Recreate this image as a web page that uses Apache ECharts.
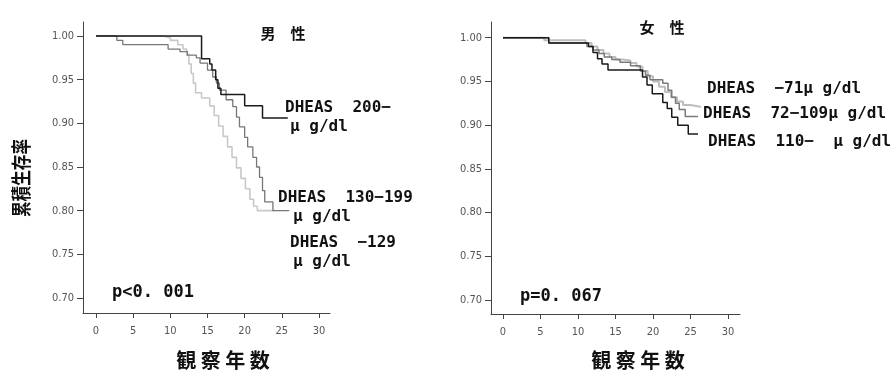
<!DOCTYPE html>
<html>
<head>
<meta charset="utf-8">
<script src="https://cdn.jsdelivr.net/npm/echarts@6/dist/echarts.min.js"></script>
<style>
    html, body { margin: 0; padding: 0; background: #fff; }
    #chartDiv { width: 893px; height: 370px; }
</style>
</head>
<body>
<div id="chartDiv"></div>
<script>
    // 目盛り
    var xTicks = [0, 5, 10, 15, 20, 25, 30];
    var yTicks = [0.70, 0.75, 0.80, 0.85, 0.90, 0.95, 1.00];

    // 男性 (観察年数, 累積生存率)
    var maleHighT = [0, 14.2, 15.3, 15.6, 16.1, 16.4, 16.8, 20.0, 22.4, 25.8];
    var maleHighS = [1.00, 0.974, 0.968, 0.961, 0.950, 0.940, 0.933, 0.920, 0.906, 0.906];
    var maleMidT = [0, 2.8, 3.6, 9.7, 11.3, 12.3, 13.5, 14.0, 15.0, 15.7, 16.2, 16.6, 17.5, 18.4, 18.9, 19.3, 20.0, 20.4, 21.1, 21.6, 22.0, 22.4, 22.7, 23.8, 26.0];
    var maleMidS = [1.00, 0.995, 0.990, 0.985, 0.982, 0.978, 0.975, 0.969, 0.961, 0.953, 0.946, 0.938, 0.927, 0.919, 0.907, 0.896, 0.884, 0.873, 0.861, 0.850, 0.838, 0.823, 0.810, 0.800, 0.800];
    var maleLowT = [0, 9.0, 10.0, 11.0, 11.7, 12.2, 12.5, 12.8, 13.1, 13.4, 14.2, 15.3, 15.9, 16.5, 17.1, 17.7, 18.3, 18.9, 19.5, 20.1, 20.7, 21.2, 21.7, 24.0];
    var maleLowS = [1.00, 0.998, 0.995, 0.990, 0.985, 0.978, 0.968, 0.957, 0.946, 0.935, 0.929, 0.920, 0.909, 0.897, 0.885, 0.873, 0.861, 0.849, 0.837, 0.825, 0.813, 0.805, 0.800, 0.800];

    // 女性
    var femHighT = [0, 6.1, 11.4, 12.0, 12.6, 13.2, 14.0, 18.6, 19.2, 19.9, 21.3, 21.9, 22.5, 23.3, 24.7, 26.0];
    var femHighS = [1.00, 0.994, 0.990, 0.983, 0.976, 0.970, 0.963, 0.955, 0.946, 0.936, 0.926, 0.919, 0.909, 0.900, 0.890, 0.890];
    var femMidT = [0, 6.1, 11.2, 12.0, 12.8, 13.5, 14.5, 15.6, 17.0, 18.3, 19.0, 19.6, 21.3, 22.0, 22.5, 23.0, 23.5, 24.3, 26.0];
    var femMidS = [1.00, 0.994, 0.990, 0.986, 0.982, 0.978, 0.975, 0.972, 0.968, 0.962, 0.957, 0.952, 0.948, 0.940, 0.932, 0.925, 0.918, 0.910, 0.910];
    var femLowT = [0, 5.5, 11.0, 11.8, 12.6, 13.4, 14.2, 15.0, 16.0, 17.0, 17.8, 18.6, 19.3, 20.0, 20.8, 21.6, 22.4, 23.2, 24.0, 25.0, 26.3];
    var femLowS = [1.00, 0.997, 0.994, 0.990, 0.986, 0.982, 0.978, 0.975, 0.974, 0.971, 0.967, 0.962, 0.956, 0.950, 0.944, 0.938, 0.932, 0.927, 0.923, 0.921, 0.920];

    function pairs(t, s) {
        return t.map(function (v, i) { return [v, s[i]]; });
    }

    var tickFont = { color: '#555', fontSize: 11, fontFamily: '"Liberation Sans Narrow", "DejaVu Sans Condensed", sans-serif' };
    var cjkFont = '"Noto Sans CJK JP", sans-serif';
    var monoFont = '"DejaVu Sans Mono", "Noto Sans CJK JP", monospace';

    function xAxis(idx, min, max) {
        return {
            type: 'value', gridIndex: idx, min: min, max: max,
            axisLine: { show: true, onZero: false, lineStyle: { color: '#444', width: 1 } },
            axisTick: { show: true, length: 5, customValues: xTicks, lineStyle: { color: '#444' } },
            axisLabel: Object.assign({ margin: 13, customValues: xTicks }, tickFont),
            splitLine: { show: false }
        };
    }
    function yAxis(idx, min, max) {
        return {
            type: 'value', gridIndex: idx, min: min, max: max,
            axisLine: { show: true, onZero: false, lineStyle: { color: '#444', width: 1 } },
            axisTick: { show: true, length: 6, customValues: yTicks, lineStyle: { color: '#444' } },
            axisLabel: Object.assign({ margin: 9, customValues: yTicks, formatter: function (v) { return v.toFixed(2); } }, tickFont),
            splitLine: { show: false }
        };
    }
    function km(idx, t, s, color, width) {
        return {
            type: 'line', xAxisIndex: idx, yAxisIndex: idx, step: 'end',
            symbol: 'none', silent: true, animation: false,
            lineStyle: { color: color, width: width },
            data: pairs(t, s)
        };
    }
    function txt(x, y, s, size, family, align, rot, sx) {
        return {
            type: 'text', x: x, y: y, rotation: rot || 0, scaleX: sx || 1,
            style: { text: s, fill: '#111', font: 'bold ' + size + 'px ' + family, align: align || 'left', verticalAlign: 'middle' }
        };
    }

    var chart = echarts.init(document.getElementById('chartDiv'));
    chart.setOption({
        animation: false,
        grid: [
            { left: 83, top: 22, width: 247, height: 291 },
            { left: 491, top: 22, width: 249, height: 292 }
        ],
        xAxis: [xAxis(0, -1.75, 31.48), xAxis(1, -1.6, 31.6)],
        yAxis: [yAxis(0, 0.6828, 1.016), yAxis(1, 0.684, 1.018)],
        series: [
            km(0, maleLowT, maleLowS, '#c8c8c8', 1.6),
            km(0, maleMidT, maleMidS, '#777', 1.3),
            km(0, maleHighT, maleHighS, '#1a1a1a', 1.5),
            km(1, femLowT, femLowS, '#bdbdbd', 2),
            km(1, femMidT, femMidS, '#7a7a7a', 1.5),
            km(1, femHighT, femHighS, '#1a1a1a', 1.5)
        ],
        graphic: [
            txt(283, 33, '男　性', 15, cjkFont, 'center'),
            txt(285, 108, 'DHEAS  200−', 16, monoFont),
            txt(290, 127, 'μ g/dl', 16, monoFont),
            txt(278, 198, 'DHEAS  130−199', 16, monoFont),
            txt(293, 217, 'μ g/dl', 16, monoFont),
            txt(290, 243, 'DHEAS  −129', 16, monoFont),
            txt(293, 262, 'μ g/dl', 16, monoFont),
            txt(112, 293, 'p<0. 001', 17, monoFont),
            txt(21, 178, '累積生存率', 20, cjkFont, 'center', Math.PI / 2, 0.78),
            txt(223, 360, '観 察 年 数', 20, cjkFont, 'center'),
            txt(662, 27, '女　性', 15, cjkFont, 'center'),
            txt(707, 89, 'DHEAS  −71μ g/dl', 16, monoFont),
            txt(703, 114, 'DHEAS  72−109μ g/dl', 16, monoFont),
            txt(708, 142, 'DHEAS  110−  μ g/dl', 16, monoFont),
            txt(520, 297, 'p=0. 067', 17, monoFont),
            txt(638, 360, '観 察 年 数', 20, cjkFont, 'center')
        ]
    });
</script>
</body>
</html>
